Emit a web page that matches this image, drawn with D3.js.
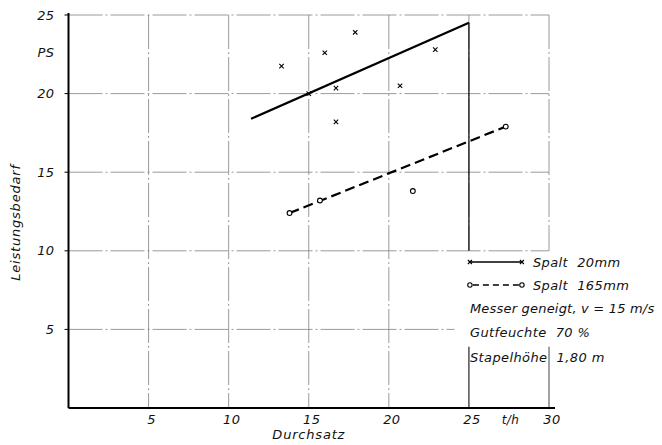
<!DOCTYPE html>
<html>
<head>
<meta charset="utf-8">
<script src="https://cdn.jsdelivr.net/npm/d3@7"></script>
<style>
  body { margin: 0; background: #fff; }
  text { font-family: "DejaVu Sans", sans-serif; font-style: italic; fill: #111; letter-spacing: 0.4px; }
</style>
</head>
<body>
<div id="chart"></div>
<script>
// Messpunkte Spalt 20mm (x) und Spalt 165mm (o)
var crossX = [13.3, 15.0, 16.0, 16.7, 16.7, 17.9, 20.7, 22.9];
var crossY = [21.75, 20.0, 22.6, 20.35, 18.2, 23.9, 20.5, 22.8];
var circleX = [13.8, 15.7, 21.5, 27.3];
var circleY = [12.4, 13.2, 13.8, 17.9];
// Ausgleichsgeraden
var lineSolidX = [11.4, 25];
var lineSolidY = [18.4, 24.5];
var lineDashX = [13.8, 27.3];
var lineDashY = [12.4, 17.9];
var xTicks = [5, 10, 15, 20, 25, 30];
var yTicks = [5, 10, 15, 20, 25];
var legendLines = ["Messer geneigt, v = 15 m/s", "Gutfeuchte\u00a0 70 %", "Stapelhöhe\u00a0 1,80 m"];

var width = 662, height = 445;
var margin = { top: 15, right: 113, bottom: 37, left: 68.5 };

var svg = d3.select("#chart").append("svg")
    .attr("width", width)
    .attr("height", height);

var x = d3.scaleLinear().domain([0, 30]).range([margin.left, width - margin.right]);
var y = d3.scaleLinear().domain([0, 25]).range([height - margin.bottom, margin.top]);

var grid = svg.append("g")
    .attr("stroke", "#808080")
    .attr("stroke-width", 0.8)
    .attr("stroke-dasharray", "34 3 2 3");

// horizontale Gitterlinien
yTicks.forEach(function(t) {
    grid.append("line")
        .attr("x1", x(0)).attr("x2", t === 5 ? x(24.1) : x(30))
        .attr("y1", y(t)).attr("y2", y(t));
});

// vertikale Gitterlinien (25 und 30 durch Legende unterbrochen)
xTicks.forEach(function(t) {
    if (t < 25) {
        grid.append("line")
            .attr("x1", x(t)).attr("x2", x(t))
            .attr("y1", y(25)).attr("y2", y(0));
    } else {
        grid.append("line")
            .attr("x1", x(t)).attr("x2", x(t))
            .attr("y1", y(25)).attr("y2", y(10));
    }
});

// dunkle Linien bei 25 und 30 t/h
svg.append("line")
    .attr("x1", x(25)).attr("x2", x(25))
    .attr("y1", y(24.5)).attr("y2", y(10))
    .attr("stroke", "#111").attr("stroke-width", 1.3);
svg.append("line")
    .attr("x1", x(25)).attr("x2", x(25))
    .attr("y1", y(3.9)).attr("y2", y(0))
    .attr("stroke", "#111").attr("stroke-width", 1.1);
svg.append("line")
    .attr("x1", x(30)).attr("x2", x(30))
    .attr("y1", y(3.9)).attr("y2", y(0))
    .attr("stroke", "#333").attr("stroke-width", 0.9);

// Achsen
svg.append("line")
    .attr("x1", x(0)).attr("x2", x(0))
    .attr("y1", y(25) - 2).attr("y2", y(0))
    .attr("stroke", "#000").attr("stroke-width", 2);
svg.append("line")
    .attr("x1", x(0)).attr("x2", x(30) + 6)
    .attr("y1", y(0)).attr("y2", y(0))
    .attr("stroke", "#000").attr("stroke-width", 2);

yTicks.forEach(function(t) {
    svg.append("line")
        .attr("x1", x(0) - 4).attr("x2", x(0))
        .attr("y1", y(t)).attr("y2", y(t))
        .attr("stroke", "#000").attr("stroke-width", 1);
    svg.append("text")
        .attr("x", x(0) - 14).attr("y", y(t))
        .attr("dy", "0.36em")
        .attr("text-anchor", "end")
        .style("font-size", "13px")
        .text(t);
});
svg.append("text")
    .attr("x", x(0) - 14).attr("y", y(22.6))
    .attr("dy", "0.36em")
    .attr("text-anchor", "end")
    .style("font-size", "13px")
    .text("PS");

xTicks.forEach(function(t) {
    svg.append("text")
        .attr("x", x(t) + 3).attr("y", y(0) + 16)
        .attr("text-anchor", "middle")
        .style("font-size", "13px")
        .text(t);
});
svg.append("text")
    .attr("x", x(27.6)).attr("y", y(0) + 16)
    .attr("text-anchor", "middle")
    .style("font-size", "12px")
    .text("t/h");

svg.append("text")
    .attr("x", x(15)).attr("y", y(0) + 31)
    .attr("text-anchor", "middle")
    .style("font-size", "13px")
    .style("letter-spacing", "0.8px")
    .text("Durchsatz");

svg.append("text")
    .attr("transform", "translate(20," + y(11.8) + ") rotate(-90)")
    .attr("text-anchor", "middle")
    .style("font-size", "13px")
    .style("letter-spacing", "0.8px")
    .text("Leistungsbedarf");

// Ausgleichsgeraden
svg.append("line")
    .attr("x1", x(lineSolidX[0])).attr("y1", y(lineSolidY[0]))
    .attr("x2", x(lineSolidX[1])).attr("y2", y(lineSolidY[1]))
    .attr("stroke", "#000").attr("stroke-width", 2.2);
svg.append("line")
    .attr("x1", x(lineDashX[0])).attr("y1", y(lineDashY[0]))
    .attr("x2", x(lineDashX[1])).attr("y2", y(lineDashY[1]))
    .attr("stroke", "#000").attr("stroke-width", 2.2)
    .attr("stroke-dasharray", "10 5");

function cross(g, cx, cy, s) {
    g.append("path")
        .attr("d", "M" + (cx - s) + "," + (cy - s) + "L" + (cx + s) + "," + (cy + s) +
                   "M" + (cx - s) + "," + (cy + s) + "L" + (cx + s) + "," + (cy - s))
        .attr("stroke", "#000").attr("stroke-width", 1.1);
}

crossX.forEach(function(v, i) {
    cross(svg, x(v), y(crossY[i]), 2.2);
});

circleX.forEach(function(v, i) {
    svg.append("circle")
        .attr("cx", x(v)).attr("cy", y(circleY[i]))
        .attr("r", 2.4)
        .attr("fill", "#fff")
        .attr("stroke", "#000").attr("stroke-width", 1.1);
});

// Legende
var lx0 = x(25) + 1, lx1 = lx0 + 52;
var ly = [262, 285];
svg.append("line")
    .attr("x1", lx0).attr("x2", lx1).attr("y1", ly[0]).attr("y2", ly[0])
    .attr("stroke", "#000").attr("stroke-width", 1.6);
cross(svg, lx0, ly[0], 2);
cross(svg, lx1, ly[0], 2);
svg.append("line")
    .attr("x1", lx0 + 3).attr("x2", lx1 - 3).attr("y1", ly[1]).attr("y2", ly[1])
    .attr("stroke", "#000").attr("stroke-width", 1.6)
    .attr("stroke-dasharray", "6 4");
[lx0, lx1].forEach(function(cx) {
    svg.append("circle")
        .attr("cx", cx).attr("cy", ly[1]).attr("r", 2.2)
        .attr("fill", "#fff").attr("stroke", "#000").attr("stroke-width", 1.1);
});
svg.append("text")
    .attr("x", lx1 + 11).attr("y", ly[0]).attr("dy", "0.36em")
    .style("font-size", "13px").text("Spalt\u00a0 20mm");
svg.append("text")
    .attr("x", lx1 + 11).attr("y", ly[1]).attr("dy", "0.36em")
    .style("font-size", "13px").text("Spalt\u00a0 165mm");

legendLines.forEach(function(s, i) {
    svg.append("text")
        .attr("x", lx0).attr("y", 308 + i * 24.5).attr("dy", "0.36em")
        .style("font-size", "13px")
        .style("letter-spacing", i === 0 ? "0.2px" : null)
        .text(s);
});
</script>
</body>
</html>
